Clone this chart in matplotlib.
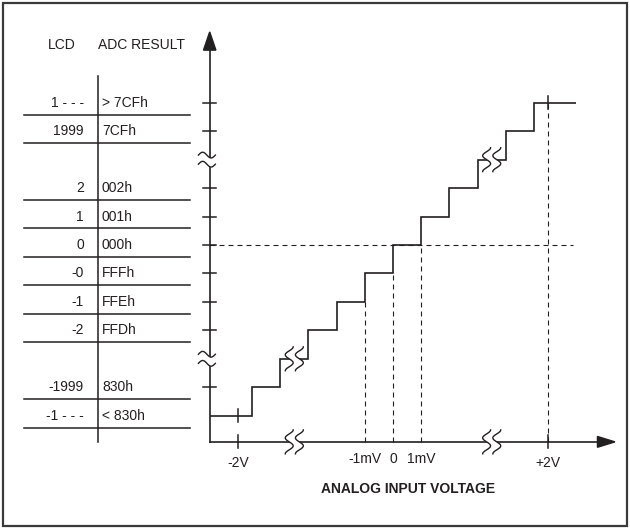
import numpy as np
import matplotlib
matplotlib.use('Agg')
import matplotlib.pyplot as plt
from matplotlib.patches import Polygon, Rectangle

# no narrow Helvetica here, Liberation Sans is closest
plt.rcParams['font.family'] = ['Liberation Sans Narrow', 'Liberation Sans', 'DejaVu Sans']

# table rows: LCD reading, ADC code, output level (in LSB steps)
lcd_labels = ['1 - - -', '1999', '2', '1', '0', '-0', '-1', '-2', '-1999', '-1 - - -']
adc_codes = ['> 7CFh', '7CFh', '002h', '001h', '000h', 'FFFh', 'FFEh', 'FFDh', '830h', '< 830h']
code_levels = [5, 4, 2, 1, 0, -1, -2, -3, -5, -6]

# transfer staircase (input in LSB = 1mV, output in codes)
step_edges = [-6.5, -5, -4, -3, -2, -1, 0, 1, 2, 3, 4, 5, 6.5]
step_levels = [-6, -5, -4, -3, -2, -1, 0, 1, 2, 3, 4, 5]

# x axis labels
volt_pos = [-5.5, -1, 0, 1, 5.5]
volt_labels = ['-2V', '-1mV', '0', '1mV', '+2V']
guide_pos = [-1, 0, 1, 5.5]

# axis breaks
x_breaks = [-3.5, 3.5]
y_breaks = [3, -4]

W, H = 630, 528
ox, oy, sx, sy = 393, 245, 28.2, 28.45
ink = '#231f20'
fs = 10

fig = plt.figure(figsize=(6.3, 5.28), dpi=100)
ax = fig.add_axes([0, 0, 1, 1])
ax.set_xlim(-ox / sx, (W - ox) / sx)
ax.set_ylim((oy - H) / sy, oy / sy)
ax.axis('off')

# outer frame
ax.add_patch(Rectangle((3 / W, 2 / H), 624 / W, 523 / H, transform=ax.transAxes,
                       fill=False, ec='#3a3a3a', lw=1.6))

def level_at(u):
    i = np.searchsorted(step_edges, u, side='left') - 1
    return step_levels[i]

axu, axv = -6.5, -6.92

# axes with arrows
ax.plot([axu, axu], [axv, 6.9], color=ink, lw=1.2)
ax.plot([axu, 7.3], [axv, axv], color=ink, lw=1.2)
ax.add_patch(Polygon([[axu, 7.49], [axu - 0.22, 6.85], [axu + 0.22, 6.85]], color=ink))
ax.add_patch(Polygon([[7.87, axv], [7.25, axv + 0.19], [7.25, axv - 0.19]], color=ink))

# y ticks
for lv in code_levels:
    if lv > min(code_levels):
        ax.plot([axu - 0.23, axu + 0.23], [lv, lv], color=ink, lw=1.1)

# staircase
ax.stairs(step_levels, step_edges, baseline=None, color=ink, lw=1.2)

# dashed guides
dash = (0, (4.5, 3.6))
ax.plot([axu, 6.4], [0, 0], color=ink, lw=0.8, ls=dash)
for u in guide_pos:
    ax.plot([u, u], [axv, level_at(u)], color=ink, lw=0.8, ls=dash)

# ticks at +-2V, on axis and on step
for u in [volt_pos[0], volt_pos[-1]]:
    ax.plot([u, u], [axv + 0.24, axv - 0.22], color=ink, lw=1.1)
    lv = level_at(u)
    ax.plot([u, u], [lv + 0.22, lv - 0.22], color=ink, lw=1.1)

# x axis labels
for u, lab in zip(volt_pos, volt_labels):
    vy = -7.68 if abs(u) > 2 else -7.52
    ax.text(u, vy, lab, ha='center', va='center', fontsize=fs, color=ink)
ax.text(0.53, -8.58, 'ANALOG INPUT VOLTAGE', ha='center', va='center',
        fontsize=fs, weight='bold', color=ink)

# S-shaped breaks on x axis and on staircase
t = np.linspace(0, 1, 60)
def s_break(uc, vc):
    vv = vc + 0.42 - t * 0.84
    left = uc - 0.18 + 0.14 * np.cos(3 * np.pi * t)
    right = uc + 0.18 + 0.14 * np.cos(3 * np.pi * t)
    ax.fill_betweenx(vv, left, right, color='white', lw=0, zorder=3)
    ax.plot(left, vv, color=ink, lw=1.0, zorder=4)
    ax.plot(right, vv, color=ink, lw=1.0, zorder=4)

for u in x_breaks:
    s_break(u, axv)
    s_break(u, level_at(u))

# tilde breaks on y axis
def y_break(vc):
    uu = axu - 0.4 + t * 0.6
    low = vc - 0.16 + 0.1 * np.sin(2 * np.pi * t)
    high = vc + 0.16 + 0.1 * np.sin(2 * np.pi * t)
    ax.fill_between(uu, low, high, color='white', lw=0, zorder=3)
    ax.plot(uu, low, color=ink, lw=1.0, zorder=4)
    ax.plot(uu, high, color=ink, lw=1.0, zorder=4)

for v in y_breaks:
    y_break(v)

# table on the left
ax.text(-11.74, 7.03, 'LCD', ha='center', va='center', fontsize=fs, color=ink)
ax.text(-10.46, 7.03, 'ADC RESULT', ha='left', va='center', fontsize=fs, color=ink)
ax.plot([-10.46, -10.46], [5.94, axv], color=ink, lw=1.1)
for lcd, code, lv in zip(lcd_labels, adc_codes, code_levels):
    ax.text(-10.96, lv, lcd, ha='right', va='center', fontsize=fs, color=ink)
    ax.text(-10.32, lv, code, ha='left', va='center', fontsize=fs, color=ink)
    ax.plot([-13.1, -7.2], [lv - 0.42, lv - 0.42], color=ink, lw=1.1)

fig.savefig('out.png', dpi=100)
